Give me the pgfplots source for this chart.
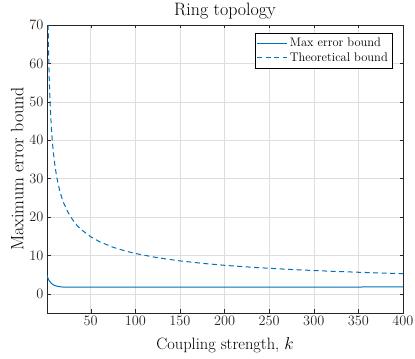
\documentclass[border=0pt]{standalone}
\usepackage{pgfplots}
\pgfplotsset{compat=1.18}
\definecolor{mblue}{rgb}{0,0.447,0.741}
\pgfplotsset{
  legend image code/.code={\draw[#1] (0bp,0bp) -- (30bp,0bp);}
}
\begin{document}
\begin{tikzpicture}
\begin{axis}[
  scale only axis,
  width=356bp, height=288bp,
  xmin=1, xmax=400, ymin=-5, ymax=70,
  xtick={50,100,...,400},
  ytick={0,10,...,70},
  tick align=inside,
  xtick pos=both, ytick pos=both,
  major tick length=3.5bp,
  grid=major,
  major grid style={black!13, line width=0.5pt},
  axis line style={black!85, line width=0.5pt},
  tick style={black!85},
  ticklabel style={font=\fontsize{14.4}{16}\selectfont, text=black!85},
  title={Ring topology},
  title style={anchor=center, yshift=8bp,
    font=\fontsize{18}{20}\selectfont},
  xlabel={Coupling strength, $k$},
  ylabel={Maximum error bound},
  xlabel style={at={(axis description cs:0.5,0)}, anchor=center, yshift=-32bp,
    font=\fontsize{16.5}{18}\selectfont},
  ylabel style={font=\fontsize{18}{20}\selectfont},
  ylabel shift=-1bp,
  legend style={at={(0.969,0.972)}, anchor=north east,
    font=\fontsize{12.5}{14}\selectfont, inner xsep=2pt, inner ysep=3pt,
    row sep=0.5pt, cells={anchor=west}},
]
\coordinate (o) at (rel axis cs:0,0);
\addplot[color=mblue, line width=1bp] coordinates {
(1,4.8) (1.5,4.4) (2,4.1) (3,3.6) (4,3.25) (5,2.95) (6,2.7) (8,2.35) (10,2.15)
(12,2.0) (15,1.85) (18,1.78) (20,1.75) (25,1.72) (30,1.71) (50,1.71) (100,1.72)
(150,1.73) (200,1.74) (250,1.75) (300,1.76) (350,1.77) (400,1.78)};
\addlegendentry{Max error bound}
\addplot[color=mblue, line width=1bp, dash pattern=on 5bp off 3.5bp] coordinates {
(2.25,70) (2.5,66.4) (3,60.6) (3.5,56.1) (4,52.5) (5,47.0) (6,42.9) (7,39.7) (8,37.1)
(10,33.2) (12,30.3) (15,27.1) (18,24.7) (20,23.5) (25,21.0) (30,19.2) (35,17.7)
(40,16.6) (50,14.85) (60,13.56) (75,12.12) (90,11.07) (100,10.5) (125,9.39)
(150,8.57) (175,7.94) (200,7.42) (225,7.0) (250,6.64) (275,6.33) (300,6.06)
(325,5.82) (350,5.61) (375,5.42) (400,5.25)};
\addlegendentry{Theoretical bound}
\end{axis}
\pgfresetboundingbox
\path ([shift={(-47bp,-46bp)}]o) rectangle ([shift={(368bp,313bp)}]o);
\end{tikzpicture}
\end{document}
